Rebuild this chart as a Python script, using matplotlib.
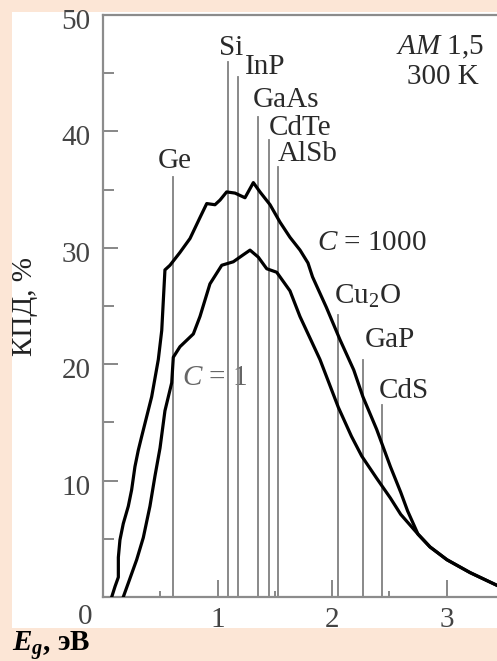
import numpy as np
import matplotlib.pyplot as plt
import matplotlib.transforms as mtrans
from matplotlib.patches import Rectangle

plt.rcParams['font.family'] = ['Liberation Serif', 'DejaVu Serif']
plt.rcParams['mathtext.fontset'] = 'custom'
plt.rcParams['mathtext.rm'] = 'Liberation Serif'
plt.rcParams['mathtext.it'] = 'Liberation Serif:italic'
plt.rcParams['mathtext.bf'] = 'Liberation Serif:bold'
plt.rcParams['mathtext.bfit'] = 'Liberation Serif:bold:italic'

# C = 1000 curve (Eg, efficiency %)
eg_1000 = [0.076, 0.105, 0.134, 0.134, 0.148, 0.177, 0.221, 0.250, 0.279, 0.308, 0.338,
           0.425, 0.483, 0.513, 0.527, 0.541, 0.585, 0.672, 0.760, 0.847, 0.906, 0.978,
           1.022, 1.080, 1.153, 1.240, 1.313, 1.371, 1.459, 1.546, 1.633, 1.721, 1.790,
           1.830, 1.950, 2.070, 2.190, 2.270, 2.390, 2.510, 2.600, 2.660, 2.751, 2.856,
           3.004, 3.205, 3.441]
eff_1000 = [0.0, 0.9, 1.7, 3.4, 4.9, 6.3, 7.8, 9.2, 11.2, 12.6, 13.8,
            17.2, 20.4, 22.9, 25.5, 28.1, 28.5, 29.6, 30.8, 32.6, 33.8, 33.7,
            34.1, 34.8, 34.7, 34.3, 35.6, 34.8, 33.7, 32.2, 30.9, 29.8, 28.7,
            27.5, 24.9, 22.1, 19.5, 17.2, 14.4, 11.2, 9.0, 7.4, 5.4, 4.3,
            3.2, 2.1, 1.0]

# C = 1 curve
eg_1 = [0.177, 0.221, 0.294, 0.352, 0.410, 0.454, 0.498, 0.541, 0.600, 0.614, 0.672,
        0.789, 0.847, 0.934, 1.037, 1.138, 1.225, 1.284, 1.356, 1.430, 1.517, 1.633,
        1.720, 1.895, 2.055, 2.170, 2.260, 2.390, 2.510, 2.600, 2.751, 2.856, 3.004,
        3.205, 3.441]
eff_1 = [0.0, 1.2, 3.2, 5.1, 7.8, 10.4, 12.8, 16.0, 18.4, 20.6, 21.5,
         22.6, 24.1, 26.9, 28.5, 28.8, 29.4, 29.8, 29.2, 28.2, 27.9, 26.3,
         24.1, 20.4, 16.3, 13.8, 12.1, 10.2, 8.5, 7.1, 5.4, 4.3, 3.2,
         2.1, 1.0]

# semiconductor band gaps: name, Eg line position, line top
materials = ['Ge', 'Si', 'InP', 'GaAs', 'CdTe', 'AlSb', 'Cu$_\\mathrm{2}$O', 'GaP', 'CdS']
mat_eg = [0.608, 1.089, 1.176, 1.357, 1.453, 1.526, 2.055, 2.268, 2.434]
mat_top = [36.1, 46.0, 44.7, 41.2, 39.3, 36.9, 24.2, 20.4, 16.5]
label_x = [0.629, 1.118, 1.415, 1.598, 1.721, 1.790, 2.306, 2.507, 2.629]
label_y = [37.5, 47.2, 45.5, 42.7, 40.3, 38.1, 25.8, 22.1, 17.7]

fig = plt.figure(figsize=(4.97, 6.61), dpi=100)
fig.patch.set_facecolor('#fce6d6')
fig.patches.append(Rectangle((12 / 497, 33 / 661), 485 / 497, 616 / 661,
                             transform=fig.transFigure, facecolor='white',
                             edgecolor='none', zorder=-10))

ax = fig.add_axes([103 / 497, 64 / 661, 394 / 497, 582 / 661])
ax.set_facecolor('none')
ax.set_xlim(0, 3.441)
ax.set_ylim(0, 50)

for x, top in zip(mat_eg, mat_top):
    ax.plot([x, x], [0, top], color='0.5', lw=1.3, zorder=2)

ax.plot(eg_1000, eff_1000, color='black', lw=2.3, solid_joinstyle='round', zorder=3)
ax.plot(eg_1, eff_1, color='black', lw=2.3, solid_joinstyle='round', zorder=3)

fs = 21
tc = '#2a2a2a'
for name, x, y in zip(materials, label_x, label_y):
    ax.text(x, y, name, ha='center', va='center', fontsize=fs, color=tc)

ax.text(2.943, 47.2, '$\\mathit{AM}$ 1,5', ha='center', va='center', fontsize=fs, color=tc)
ax.text(2.97, 44.7, '300 K', ha='center', va='center', fontsize=fs, color=tc)
ax.text(2.349, 30.4, '$\\mathit{C}$ = 1000', ha='center', va='center', fontsize=fs, color=tc)
ax.text(0.978, 18.8, '$\\mathit{C}$ = 1', ha='center', va='center', fontsize=fs,
        color='0.4', zorder=1)

# axes styling
for s in ['left', 'bottom', 'top']:
    ax.spines[s].set_color('0.55')
    ax.spines[s].set_linewidth(1.6)
ax.spines['right'].set_visible(False)

ax.set_xticks([1, 2, 3])
ax.set_xticks([0.5, 1.5, 2.5], minor=True)
ax.set_yticks([10, 20, 30, 40, 50])
ax.set_yticks([5, 15, 25, 35, 45], minor=True)
ax.tick_params(axis='both', which='both', direction='in', colors='0.45',
               labelcolor='#444444', labelsize=fs)
ax.tick_params(axis='x', which='major', length=12, width=1.2, pad=7)
ax.tick_params(axis='x', which='minor', length=4, width=1.2)
ax.tick_params(axis='y', which='major', length=11, width=1.2, pad=9)
ax.tick_params(axis='y', which='minor', length=8, width=1.2)
ax.tick_params(top=False, right=False, which='both')

shift = mtrans.ScaledTranslation(0, -0.04, fig.dpi_scale_trans)
for lab in ax.get_yticklabels():
    lab.set_transform(lab.get_transform() + shift)

fig.text(85 / 497, 1 - 617 / 661, '0', ha='center', va='center', fontsize=fs, color='#444444')
fig.text(25 / 497, 1 - 307 / 661, 'КПД, %', rotation=90, ha='center', va='center',
         fontsize=fs, color='#222222')
fig.text(12 / 497, 1 - 645 / 661, '$\\mathbfit{E}_{\\mathbfit{g}}$, эВ', ha='left', va='center',
         fontsize=21, fontweight='bold', color='black')

fig.savefig('out.png', dpi=100, facecolor=fig.get_facecolor())
